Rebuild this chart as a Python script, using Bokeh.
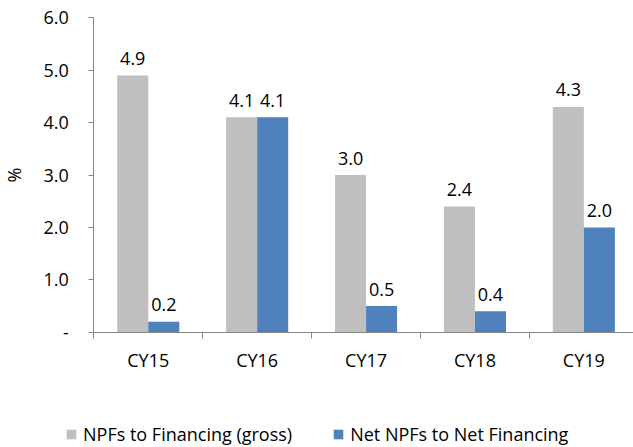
from bokeh.plotting import figure
from bokeh.models import ColumnDataSource, FixedTicker, Legend, LegendItem, Range1d
from bokeh.embed import file_html
from bokeh.resources import INLINE

categories = ["CY15", "CY16", "CY17", "CY18", "CY19"]
gross = [4.9, 4.1, 3.0, 2.4, 4.3]
net = [0.2, 4.1, 0.5, 0.4, 2.0]
series_names = ["NPFs to Financing (gross)", "Net NPFs to Net Financing"]
y_ticks = [0, 1, 2, 3, 4, 5, 6]
y_tick_labels = ["-", "1.0", "2.0", "3.0", "4.0", "5.0", "6.0"]

FONT = "Open Sans"
FS = "18px"
GRAY = "#BFBFBF"
BLUE = "#4F81BD"
AXIS = "#868686"

idx = list(range(len(categories)))
bw = 0.285
src = ColumnDataSource(dict(
    xg=[i + 0.5 - bw / 2 for i in idx],
    xn=[i + 0.5 + bw / 2 for i in idx],
    gross=gross, net=net,
    gl=[f"{v:.1f}" for v in gross],
    nl=[f"{v:.1f}" for v in net],
))

# the frame covers the whole canvas; axes are drawn at fixed data locations
p = figure(width=633, height=447,
           min_border_left=0, min_border_right=0, min_border_top=0, min_border_bottom=0,
           x_range=Range1d(-0.857, 4.956), y_range=Range1d(-2.2, 6.33),
           output_backend="svg", toolbar_location=None)

rg = p.vbar(x="xg", top="gross", width=bw, source=src, fill_color=GRAY, line_color=None)
rn = p.vbar(x="xn", top="net", width=bw, source=src, fill_color=BLUE, line_color=None)

for xcol, ycol, tcol in (("xg", "gross", "gl"), ("xn", "net", "nl")):
    p.text(x=xcol, y=ycol, text=tcol, source=src, text_align="center", text_baseline="alphabetic",
           y_offset=-17, text_font_size=FS, text_font={"value": FONT}, text_color="#000000")

p.xgrid.visible = False
p.ygrid.visible = False
p.outline_line_color = None

xa = p.xaxis[0]
xa.fixed_location = 0
xa.bounds = (0, len(categories))
xa.ticker = FixedTicker(ticks=[i + 0.5 for i in idx], minor_ticks=[float(i) for i in range(len(categories) + 1)])
xa.major_label_overrides = {i + 0.5: c for i, c in zip(idx, categories)}
xa.major_tick_line_color = None
xa.major_tick_out = 0
xa.major_tick_in = 0
xa.minor_tick_line_color = AXIS
xa.minor_tick_out = 6
xa.minor_tick_in = 0
xa.axis_line_color = AXIS
xa.major_label_text_font = FONT
xa.major_label_text_font_size = FS
xa.major_label_text_color = "#000000"
xa.major_label_standoff = 10

ya = p.yaxis[0]
ya.fixed_location = 0
ya.bounds = (0, 6)
ya.ticker = FixedTicker(ticks=y_ticks)
ya.major_label_overrides = {t: l for t, l in zip(y_ticks, y_tick_labels)}
ya.major_tick_line_color = AXIS
ya.major_tick_out = 5
ya.major_tick_in = 0
ya.minor_tick_line_color = None
ya.axis_line_color = AXIS
ya.major_label_text_font = FONT
ya.major_label_text_font_size = FS
ya.major_label_text_color = "#000000"
ya.major_label_standoff = 20
ya.axis_label = "%"
ya.axis_label_text_font = FONT
ya.axis_label_text_font_size = FS
ya.axis_label_text_font_style = "normal"
ya.axis_label_text_color = "#000000"
ya.axis_label_standoff = 14

legend = Legend(items=[LegendItem(label=series_names[0], renderers=[rg]),
                       LegendItem(label=series_names[1], renderers=[rn])],
                orientation="horizontal", location=(65, 1),
                glyph_width=12, glyph_height=12, label_standoff=6, spacing=40,
                label_text_font=FONT, label_text_font_size=FS, label_text_color="#000000",
                border_line_color=None, background_fill_alpha=0, padding=0, margin=0)
p.add_layout(legend)

open("out.html", "w").write(file_html(p, INLINE))
